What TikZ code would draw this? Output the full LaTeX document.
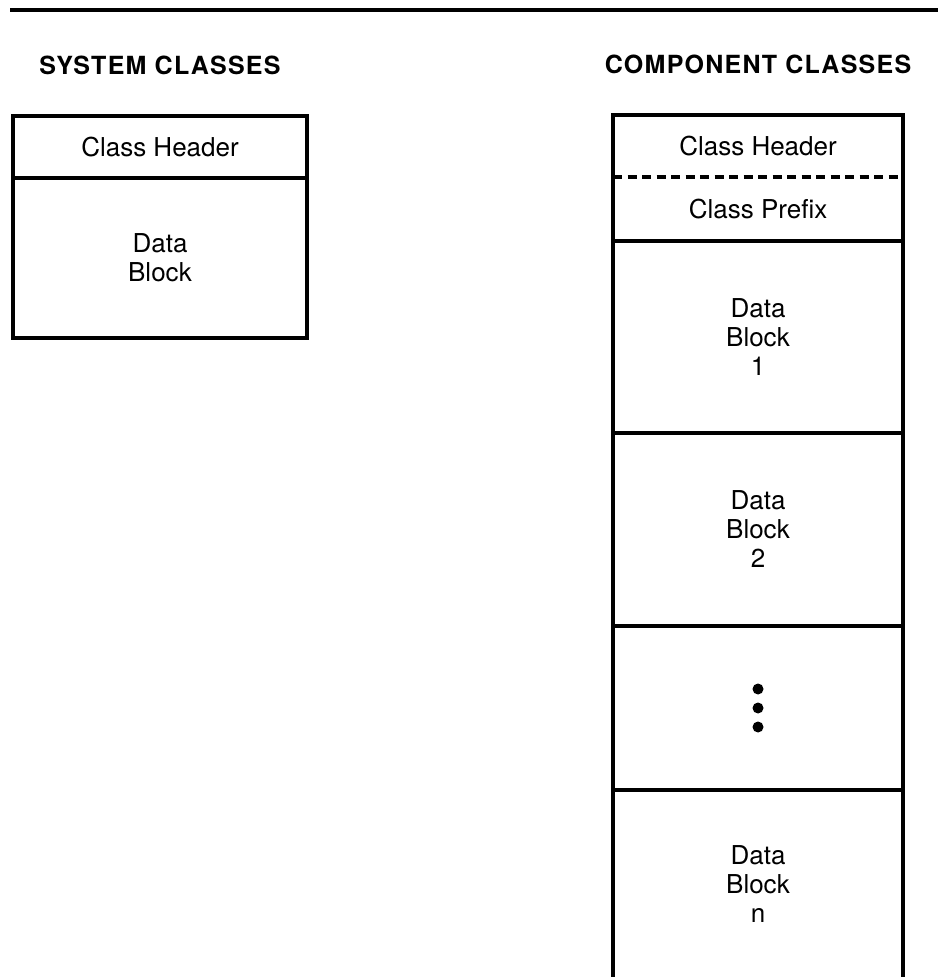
\documentclass[tikz,border=0pt]{standalone}
\usepackage{fontspec}
\setmainfont{TeX Gyre Heros}
\usetikzlibrary{positioning}

\begin{document}
\begin{tikzpicture}[x=0.5pt,y=-0.5pt,
		thick,
		cell box/.style={rectangle,draw,line width=1.6pt,inner sep=0pt,outer sep=0pt,
			minimum width=145pt,align=center,font=\fontsize{13}{14.5}\selectfont},
		open box/.style={cell box,draw=none},
		head text/.style={inner sep=0pt,font=\fontsize{12.5}{14}\selectfont\bfseries\addfontfeature{LetterSpace=5}}]
		
		\useasboundingbox (0,0) rectangle (938,977);
		\draw[line width=2pt] (10,10.5) -- (938,10.5);
		
		% system classes
		\node[cell box, minimum width=147pt, minimum height=31pt] (sh) at (160,147) {Class Header};
		\node[cell box, minimum width=147pt, minimum height=80pt] (sd) [below=0pt of sh] {Data\\Block};
		\node[head text] (st) [above=20pt of sh] {SYSTEM CLASSES};
		
		% component classes
		\node[open box, minimum height=31pt] (ch) at (758,146) {Class Header};
		\node[open box, minimum height=32pt] (cp) [below=0pt of ch] {Class Prefix};
		\node[cell box, minimum height=96pt] (c1) [below=0pt of cp] {Data\\Block\\1};
		\node[cell box, minimum height=96.5pt] (c2) [below=0pt of c1] {Data\\Block\\2};
		\node[cell box, minimum height=82pt] (cd) [below=0pt of c2] {};
		\node[open box, minimum height=94pt] (cn) [below=0pt of cd] {Data\\Block\\n};
		\node[head text] (ct) [above=20pt of ch] {COMPONENT CLASSES};
		
		\draw[line width=1.6pt] (cp.south west) -- (ch.north west) -- (ch.north east) -- (cp.south east);
		\draw[line width=1.6pt, dash pattern=on 4.5pt off 2.75pt] (ch.south west) -- (ch.south east);
		\draw[line width=1.6pt] (cn.south west) -- (cn.north west) (cn.north east) -- (cn.south east);
		\foreach \k in {-1,0,1}
		\fill (cd.center) ++(0,19*\k) circle[radius=5.5];
\end{tikzpicture}
\end{document}
